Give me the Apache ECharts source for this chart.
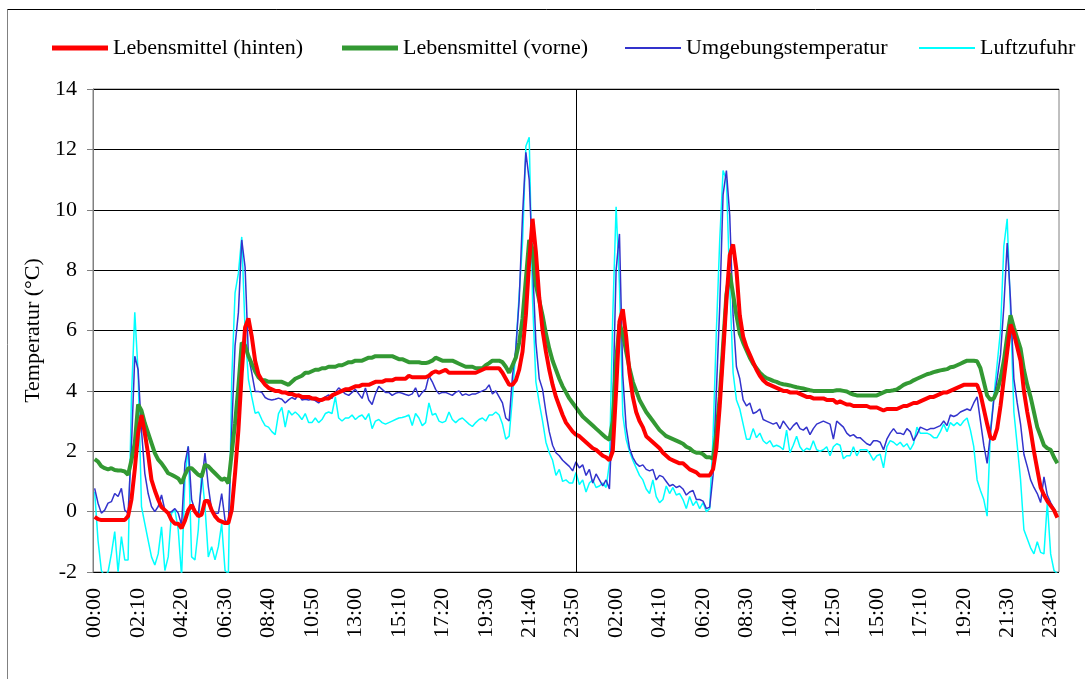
<!DOCTYPE html>
<html><head><meta charset="utf-8">
<script src="https://cdn.jsdelivr.net/npm/echarts@6/dist/echarts.min.js"></script>
<style>html,body{margin:0;padding:0;background:#fff}#c{width:1085px;height:679px}</style>
</head><body><div id="c"></div>
<script>
// 10-minute samples over two days (289 points, 00:00 day 1 .. 00:00 day 3)
const seriesNames = ['Lebensmittel (hinten)','Lebensmittel (vorne)','Umgebungstemperatur','Luftzufuhr'];
const yTicks = {min:-2, max:14, step:2};

const hinten = [
-0.17,-0.25,-0.28,-0.28,-0.28,-0.28,-0.28,-0.28,-0.28,-0.28,
-0.15,0.4,1.4,2.6,3.2,2.6,1.9,1.05,0.7,0.4,
0.15,0.05,-0.05,-0.28,-0.4,-0.4,-0.55,-0.3,0.05,0.22,
0.0,-0.15,-0.1,0.35,0.35,0.05,-0.15,-0.28,-0.33,-0.38,
-0.38,0.05,1.27,2.7,4.6,6.1,6.4,5.8,5.0,4.55,
4.35,4.2,4.1,4.05,4.0,4.0,3.95,3.95,3.9,3.9,
3.85,3.85,3.8,3.8,3.8,3.75,3.75,3.7,3.7,3.75,
3.75,3.85,3.9,3.95,4.0,4.05,4.05,4.1,4.15,4.15,
4.2,4.2,4.2,4.25,4.3,4.3,4.3,4.35,4.35,4.35,
4.4,4.4,4.4,4.4,4.5,4.45,4.45,4.45,4.45,4.45,
4.5,4.6,4.65,4.6,4.65,4.7,4.6,4.6,4.6,4.6,
4.6,4.6,4.6,4.6,4.6,4.65,4.7,4.75,4.75,4.75,
4.75,4.75,4.6,4.4,4.2,4.2,4.35,4.7,5.3,6.5,
8.3,9.7,8.6,7.1,6.0,5.3,4.7,4.2,3.8,3.5,
3.2,2.95,2.8,2.65,2.55,2.5,2.4,2.3,2.2,2.1,
2.05,1.95,1.85,1.8,1.7,2.0,4.0,6.3,6.7,5.8,
4.6,3.8,3.3,3.0,2.8,2.5,2.4,2.3,2.2,2.1,
1.95,1.85,1.75,1.7,1.65,1.6,1.6,1.5,1.4,1.35,
1.3,1.2,1.2,1.2,1.2,1.4,2.1,3.5,5.2,7.0,
8.5,8.85,8.0,6.5,5.8,5.45,5.2,4.95,4.7,4.5,
4.35,4.25,4.2,4.15,4.1,4.05,4.0,4.0,3.95,3.95,
3.95,3.9,3.85,3.8,3.8,3.75,3.75,3.75,3.75,3.7,
3.7,3.7,3.6,3.65,3.6,3.55,3.55,3.5,3.5,3.5,
3.5,3.5,3.45,3.45,3.45,3.4,3.35,3.4,3.4,3.4,
3.4,3.45,3.5,3.5,3.55,3.6,3.6,3.65,3.7,3.75,
3.8,3.8,3.85,3.9,3.95,3.95,4.0,4.05,4.1,4.15,
4.2,4.2,4.2,4.2,4.2,3.9,3.4,2.9,2.45,2.4,
2.75,3.5,4.4,5.3,6.2,5.9,5.45,5.0,4.0,3.3,
2.7,2.0,1.4,0.8,0.55,0.35,0.2,0.05,-0.2
];

const vorne = [
1.74,1.66,1.5,1.44,1.4,1.44,1.38,1.36,1.36,1.33,
1.22,1.7,2.27,3.55,3.35,2.93,2.6,2.27,1.94,1.72,
1.6,1.44,1.27,1.22,1.16,1.1,0.94,1.22,1.44,1.44,
1.33,1.22,1.16,1.55,1.5,1.38,1.27,1.16,1.05,1.1,
0.94,1.94,2.93,4.15,5.6,5.5,5.15,4.9,4.65,4.45,
4.35,4.35,4.3,4.3,4.3,4.3,4.3,4.25,4.2,4.3,
4.4,4.45,4.5,4.6,4.6,4.65,4.7,4.7,4.75,4.75,
4.8,4.8,4.8,4.85,4.85,4.9,4.95,4.95,5.0,5.0,
5.0,5.05,5.1,5.1,5.15,5.15,5.15,5.15,5.15,5.15,
5.1,5.05,5.05,5.0,4.95,4.95,4.95,4.95,4.92,4.92,
4.95,5.0,5.1,5.05,5.0,5.0,5.0,5.0,4.95,4.9,
4.85,4.8,4.8,4.8,4.75,4.75,4.75,4.85,4.92,5.0,
5.0,5.0,4.95,4.8,4.6,4.85,5.1,5.6,6.4,7.7,
9.0,8.7,7.5,7.0,6.5,5.9,5.4,5.0,4.7,4.4,
4.15,3.95,3.75,3.6,3.45,3.3,3.15,3.05,2.95,2.85,
2.75,2.65,2.55,2.45,2.38,3.0,5.0,6.2,5.9,5.3,
4.75,4.3,4.0,3.7,3.5,3.3,3.15,3.0,2.85,2.7,
2.6,2.5,2.45,2.4,2.35,2.3,2.25,2.15,2.1,2.0,
1.95,1.95,1.9,1.8,1.8,1.75,2.6,3.8,5.5,7.2,
7.9,7.2,6.5,5.9,5.6,5.35,5.1,4.9,4.75,4.6,
4.5,4.42,4.38,4.33,4.3,4.25,4.22,4.2,4.18,4.15,
4.12,4.1,4.08,4.05,4.02,4.0,4.0,4.0,4.0,4.0,
4.0,4.0,4.02,4.02,4.0,3.98,3.92,3.88,3.85,3.85,
3.85,3.85,3.85,3.85,3.85,3.9,3.95,4.0,4.0,4.02,
4.05,4.12,4.2,4.25,4.28,4.35,4.4,4.45,4.5,4.55,
4.58,4.62,4.65,4.68,4.7,4.72,4.78,4.8,4.85,4.9,
4.95,5.0,5.0,5.0,4.98,4.75,4.3,3.85,3.7,3.75,
4.0,4.4,5.0,5.8,6.5,6.1,5.75,5.4,4.7,4.2,
3.8,3.3,2.8,2.5,2.2,2.1,2.05,1.8,1.6
];

const umgebung = [
0.77,0.28,-0.05,0.05,0.28,0.33,0.6,0.5,0.77,0.05,
-0.05,2.16,5.15,4.7,2.7,1.27,0.6,0.17,0.0,0.17,
0.55,0.05,-0.05,0.0,0.1,-0.05,-0.45,1.6,2.16,0.39,
0.05,-0.1,0.94,1.94,0.83,0.05,-0.05,-0.05,0.6,-0.28,
-0.4,2.7,5.5,6.6,9.0,8.1,5.15,4.6,3.98,3.98,
3.95,3.78,3.72,3.7,3.72,3.76,3.72,3.6,3.7,3.78,
3.72,3.9,3.7,3.72,3.7,3.72,3.68,3.6,3.7,3.8,
3.87,3.75,3.95,4.1,4.0,3.9,3.85,3.95,4.05,3.9,
3.75,4.1,3.7,3.55,3.9,4.15,4.05,3.95,3.95,3.85,
3.92,3.95,3.92,3.88,3.85,3.9,4.1,3.8,3.95,4.05,
4.5,4.3,4.05,3.9,3.95,3.95,3.9,3.85,3.95,4.0,
3.85,3.9,3.85,3.9,3.9,3.95,4.0,4.05,4.2,3.9,
4.0,3.8,3.6,3.1,3.0,4.5,5.4,7.0,9.8,11.9,
11.0,8.2,5.6,4.4,4.05,3.3,2.65,2.2,1.95,1.85,
1.7,1.6,1.5,1.35,1.65,1.45,1.55,1.2,1.4,0.95,
1.25,1.05,0.85,1.05,0.75,3.5,8.0,9.2,4.5,2.8,
2.1,1.8,1.6,1.5,1.55,1.4,1.35,1.4,1.05,1.2,
1.15,1.0,0.85,0.9,0.8,0.85,0.75,0.55,0.65,0.7,
0.4,0.4,0.35,0.1,0.15,1.2,4.0,6.8,10.5,11.3,
9.8,6.5,4.8,4.4,3.7,3.5,3.6,3.25,3.3,3.4,
3.05,3.0,2.95,2.9,2.95,2.75,3.0,2.85,2.7,2.85,
2.95,2.75,2.7,2.8,2.55,2.75,2.9,2.95,3.0,2.95,
2.9,2.4,3.0,2.9,2.8,2.6,2.5,2.55,2.45,2.45,
2.35,2.25,2.2,2.35,2.35,2.3,2.05,2.4,2.6,2.75,
2.6,2.6,2.55,2.75,2.65,2.35,2.55,2.8,2.75,2.7,
2.75,2.75,2.8,2.85,3.0,2.85,3.2,3.15,3.2,3.3,
3.35,3.4,3.35,3.6,3.8,3.0,2.2,1.6,2.6,3.7,
4.4,5.2,6.8,8.9,7.0,4.4,3.6,2.9,1.9,1.5,
1.05,0.8,0.6,0.3,1.15,0.55,0.3,0.1,-0.15
];

const luftzufuhr = [
0.66,-0.95,-1.95,-2.15,-2.0,-1.4,-0.66,-2.0,-0.83,-1.6,
-1.6,3.8,6.6,4.6,0.17,-0.4,-0.95,-1.5,-1.77,-1.4,
-0.5,-1.95,-1.5,-0.05,0.05,-0.6,-2.15,1.05,2.16,-1.5,
-1.6,-0.6,1.33,0.17,-1.5,-1.16,-1.6,-1.16,-0.4,-1.95,
-2.05,4.37,7.25,7.9,9.1,6.0,4.37,3.8,3.26,3.3,
3.05,2.85,2.8,2.65,2.55,3.25,3.45,2.8,3.35,3.2,
3.3,3.2,3.05,3.25,2.95,2.95,3.1,2.95,3.05,3.25,
3.3,3.25,3.8,3.1,3.0,3.1,3.1,3.2,3.05,3.15,
3.2,3.05,3.25,2.75,3.0,3.05,2.95,2.9,2.95,3.0,
3.05,3.1,3.12,3.15,3.2,2.85,3.25,3.1,2.85,2.95,
3.6,3.2,3.25,3.0,2.95,3.0,3.3,3.05,2.95,3.05,
3.1,3.0,2.9,2.82,2.95,3.05,3.1,3.0,3.2,3.2,
3.3,3.2,2.9,2.4,2.5,3.8,5.4,7.2,8.9,12.1,
12.4,7.0,4.3,3.6,3.0,2.3,1.95,1.7,1.2,1.4,
1.0,1.05,0.95,0.95,1.3,0.9,1.05,0.65,0.95,1.05,
0.8,0.85,0.95,0.8,1.6,6.5,10.1,7.5,3.2,2.4,
2.0,1.7,1.45,1.2,1.05,0.75,0.6,1.05,0.5,0.3,
0.4,0.85,0.6,0.8,0.55,0.6,0.4,0.1,0.5,0.2,
0.35,0.1,0.3,0.0,0.1,2.5,6.0,9.0,11.3,11.0,
7.5,4.6,3.7,3.4,2.9,2.4,2.4,2.75,2.45,2.6,
2.35,2.25,2.35,2.15,2.2,2.15,2.05,2.7,1.95,2.2,
2.5,2.15,2.0,2.1,2.05,2.35,2.05,2.0,2.05,2.15,
1.85,2.15,2.25,2.2,1.75,1.85,1.85,2.15,1.85,2.05,
2.05,2.05,1.9,1.7,1.85,1.9,1.45,2.15,2.35,2.3,
2.2,2.3,2.15,2.25,2.05,2.25,2.8,2.6,2.6,2.6,
2.55,2.45,2.45,2.65,2.9,2.65,2.95,2.85,2.95,2.85,
3.0,3.1,2.7,2.15,1.05,0.7,0.4,-0.15,2.7,3.8,
4.9,6.0,8.8,9.7,6.6,3.3,2.2,1.05,-0.6,-0.9,
-1.2,-1.4,-1.0,-1.35,-1.4,0.3,-1.4,-1.95,-2.05
];

// time-of-day category labels, one per 10-minute sample
const categories = [];
for (let j = 0; j < hinten.length; j++) {
  const m = (j * 10) % 1440;
  categories.push(String(Math.floor(m / 60)).padStart(2, '0') + ':' + String(m % 60).padStart(2, '0'));
}
const midnightIndex = 144;

const FONT = '"Liberation Serif","Times New Roman",serif';
const colors = ['#FF0000', '#339933', '#3333CC', '#00FFFF'];
const widths = [4, 4, 1.5, 1.5];
const datasets = [hinten, vorne, umgebung, luftzufuhr];
const legendLeft = [47, 337, 620, 914];
const legendIconH = [5, 5, 2, 2];

const chart = echarts.init(document.getElementById('c'), null, {renderer: 'canvas'});
const series = seriesNames.map((name, k) => ({
  name, type: 'line', data: datasets[k], symbol: 'none', showSymbol: false,
  lineStyle: {color: colors[k], width: widths[k]}, itemStyle: {color: colors[k]},
  z: [4, 3, 2, 1][k], animation: false,
  markLine: k === 0 ? {
    silent: true, symbol: 'none', label: {show: false},
    lineStyle: {color: '#000', width: 1, type: 'solid'},
    data: [{xAxis: midnightIndex}]
  } : undefined
}));

chart.setOption({
  animation: false,
  backgroundColor: '#fff',
  textStyle: {fontFamily: FONT},
  grid: {left: 93, right: 26, top: 89, bottom: 107, show: true, borderColor: '#808080', borderWidth: 1, containLabel: false},
  legend: seriesNames.map((name, k) => ({
    data: [{name, icon: 'rect'}], left: legendLeft[k], top: 32, itemWidth: 56, itemHeight: legendIconH[k], itemGap: 0,
    itemStyle: {borderWidth: 0},
    textStyle: {fontFamily: FONT, fontSize: 22, color: '#000'}, selectedMode: false
  })),
  xAxis: {
    type: 'category', data: categories, boundaryGap: true,
    axisLine: {lineStyle: {color: '#808080', width: 1}},
    axisTick: {show: false},
    axisLabel: {interval: 12, rotate: 90, margin: 16, fontFamily: FONT, fontSize: 22, color: '#000'},
    splitLine: {show: false}
  },
  yAxis: {
    type: 'value', min: yTicks.min, max: yTicks.max, interval: yTicks.step,
    name: 'Temperatur (°C)', nameLocation: 'middle', nameGap: 47, nameRotate: 90,
    nameTextStyle: {fontFamily: FONT, fontSize: 22, color: '#000'},
    axisLine: {show: true, lineStyle: {color: '#808080', width: 1}},
    axisTick: {show: true, length: 6, lineStyle: {color: '#808080'}},
    axisLabel: {margin: 16, fontFamily: FONT, fontSize: 22, color: '#000'},
    splitLine: {show: true, lineStyle: {color: '#000', width: 1}}
  },
  graphic: [
    {type: 'line', shape: {x1: 7.5, y1: 9.5, x2: 7.5, y2: 679}, style: {stroke: '#808080', lineWidth: 1}, silent: true},
    {type: 'line', shape: {x1: 7.5, y1: 9.5, x2: 1085, y2: 9.5}, style: {stroke: '#000', lineWidth: 1}, silent: true}
  ],
  series
});
</script>
</body></html>
